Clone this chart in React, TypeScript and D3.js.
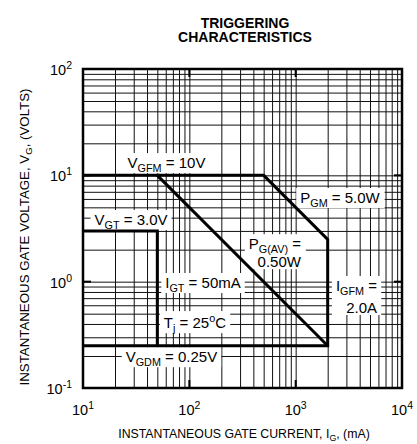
import { useEffect, useRef } from 'react';
import * as d3 from 'd3';

const W = 417;
const H = 444;

// axes: gate current in mA, gate voltage in volts
const currentDomain = [10, 10000];
const voltageDomain = [0.1, 100];
const currentTicks = [10, 100, 1000, 10000];
const voltageTicks = [0.1, 1, 10, 100];

// outer rating boundary: VGFM -> PGM -> IGFM -> VGDM
const boundaryCurrent = [10, 500, 2000, 2000, 10];
const boundaryVoltage = [10, 10, 2.5, 0.25, 0.25];
// average gate power line, PG(AV) = 0.5 W
const avgPowerCurrent = [50, 2000];
const avgPowerVoltage = [10, 0.25];
// trigger corner VGT / IGT
const triggerCurrent = [10, 50, 50];
const triggerVoltage = [3, 3, 0.25];

type Part = [string, '' | 'sub' | 'sup'];
const labelLines: Part[][][] = [
  [[['V', ''], ['GFM', 'sub'], [' = 10V', '']]],
  [[['P', ''], ['GM', 'sub'], [' = 5.0W', '']]],
  [[['V', ''], ['GT', 'sub'], [' = 3.0V', '']]],
  [[['P', ''], ['G(AV)', 'sub'], [' =', '']], [['0.50W', '']]],
  [[['I', ''], ['GT', 'sub'], [' = 50mA', '']]],
  [[['I', ''], ['GFM', 'sub'], [' =', '']], [['2.0A', '']]],
  [[['T', ''], ['j', 'sub'], [' = 25', ''], ['o', 'sup'], ['C', '']]],
  [[['V', ''], ['GDM', 'sub'], [' = 0.25V', '']]],
];

const titleLines = ['TRIGGERING', 'CHARACTERISTICS'];
const xTitle: Part[] = [['INSTANTANEOUS GATE CURRENT, I', ''], ['G', 'sub'], [', (mA)', '']];
const yTitle: Part[] = [['INSTANTANEOUS GATE VOLTAGE, V', ''], ['G', 'sub'], [', (VOLTS)', '']];

const FONT = '"Liberation Sans", Arial, Helvetica, sans-serif';

function parts(sel: any, list: Part[], size: number) {
  let shift = 0;
  list.forEach(([t, kind]) => {
    const target = kind === 'sub' ? size * 0.27 : kind === 'sup' ? -size * 0.4 : 0;
    sel.append('tspan')
      .attr('dy', target - shift)
      .attr('font-size', kind ? size * 0.72 : size)
      .text(t);
    shift = target;
  });
}

export default function App() {
  const svgRef = useRef<SVGSVGElement>(null);

  useEffect(() => {
    const svg = d3.select(svgRef.current);
    svg.selectAll('*').remove();

    const m = { top: 69, right: 15, bottom: 56, left: 83 };
    const iw = W - m.left - m.right;
    const ih = H - m.top - m.bottom;
    const x = d3.scaleLog().domain(currentDomain).range([0, iw]);
    const y = d3.scaleLog().domain(voltageDomain).range([ih, 0]);

    // title
    svg.append('g').selectAll('text').data(titleLines).join('text')
      .attr('x', 245).attr('y', (_, i) => 28 + i * 14)
      .attr('text-anchor', 'middle').attr('font-weight', 'bold')
      .attr('font-size', 14).text(d => d);

    const g = svg.append('g').attr('transform', `translate(${m.left},${m.top})`);

    // log grid
    g.append('g').attr('transform', `translate(0,${ih})`)
      .call(d3.axisBottom(x).tickSize(ih).tickSizeOuter(0).tickFormat(() => '') as any)
      .call(a => a.select('.domain').remove())
      .call(a => a.selectAll('.tick line').attr('y2', -ih).attr('stroke', '#111'));
    g.append('g')
      .call(d3.axisLeft(y).tickSize(-iw).tickSizeOuter(0).tickFormat(() => '') as any)
      .call(a => a.select('.domain').remove())
      .call(a => a.selectAll('.tick line').attr('stroke', '#111'));

    // decade stubs on the frame
    const stub = 8;
    currentTicks.slice(1, -1).forEach(c => {
      g.append('line').attr('x1', x(c)).attr('x2', x(c)).attr('y1', 0).attr('y2', stub)
        .attr('stroke', '#000').attr('stroke-width', 2);
      g.append('line').attr('x1', x(c)).attr('x2', x(c)).attr('y1', ih).attr('y2', ih - stub)
        .attr('stroke', '#000').attr('stroke-width', 2);
    });
    voltageTicks.slice(1, -1).forEach(v => {
      g.append('line').attr('y1', y(v)).attr('y2', y(v)).attr('x1', 0).attr('x2', stub)
        .attr('stroke', '#000').attr('stroke-width', 2);
      g.append('line').attr('y1', y(v)).attr('y2', y(v)).attr('x1', iw).attr('x2', iw - stub)
        .attr('stroke', '#000').attr('stroke-width', 2);
    });

    // label placement in data units (mA, V)
    const place = [
      { i: 61, v: 11.7, anchor: 'middle', gap: 0 },
      { i: 2612, v: 5.49, anchor: 'middle', gap: 0 },
      { i: 28.3, v: 3.41, anchor: 'middle', gap: 0 },
      { i: 1122, v: 2.02, anchor: 'end', gap: 18 },
      { i: 134.5, v: 0.872, anchor: 'middle', gap: 0 },
      { i: 5821, v: 0.817, anchor: 'end', gap: 22 },
      { i: 113, v: 0.366, anchor: 'middle', gap: 0 },
      { i: 67.9, v: 0.175, anchor: 'middle', gap: 0 },
    ];
    const boxLayer = g.append('g');
    const curveLayer = g.append('g');
    const textLayer = g.append('g');

    const line = d3.line<[number, number]>().x(d => x(d[0])).y(d => y(d[1]));
    const curves = [
      d3.zip(boundaryCurrent, boundaryVoltage),
      d3.zip(avgPowerCurrent, avgPowerVoltage),
      d3.zip(triggerCurrent, triggerVoltage),
    ];
    curveLayer.selectAll('path').data(curves).join('path')
      .attr('d', d => line(d as [number, number][]))
      .attr('fill', 'none').attr('stroke', '#000').attr('stroke-width', 3)
      .attr('stroke-linejoin', 'miter');

    labelLines.forEach((lines, k) => {
      const p = place[k];
      const lg = textLayer.append('g');
      lines.forEach((ln, j) => {
        const t = lg.append('text')
          .attr('x', x(p.i)).attr('y', y(p.v) + j * p.gap)
          .attr('text-anchor', p.anchor).attr('font-size', 15);
        parts(t, ln, 15);
      });
      const bb = (lg.node() as SVGGElement).getBBox();
      boxLayer.append('rect')
        .attr('x', bb.x - 4).attr('y', bb.y - 1)
        .attr('width', bb.width + 8).attr('height', bb.height)
        .attr('fill', '#fff');
    });

    // frame
    g.append('rect').attr('width', iw).attr('height', ih)
      .attr('fill', 'none').attr('stroke', '#000').attr('stroke-width', 2.5);

    // tick labels 10^n
    const expOf = (v: number) => String(Math.round(Math.log10(v)));
    currentTicks.forEach(c => {
      const t = g.append('text').attr('x', x(c)).attr('y', ih + 27)
        .attr('text-anchor', 'middle').attr('font-size', 14.5);
      t.append('tspan').text('10');
      t.append('tspan').attr('dy', -6).attr('font-size', 10.5).text(expOf(c));
    });
    voltageTicks.forEach(v => {
      const t = g.append('text').attr('x', -11).attr('y', y(v) + 6)
        .attr('text-anchor', 'end').attr('font-size', 14.5);
      t.append('tspan').text('10');
      t.append('tspan').attr('dy', -6).attr('font-size', 10.5).text(expOf(v));
    });

    // axis titles
    const xt = svg.append('text').attr('x', 244).attr('y', 438)
      .attr('text-anchor', 'middle').attr('font-size', 12.3);
    parts(xt, xTitle, 12.3);
    const yt = svg.append('text').attr('transform', 'translate(28.5,237) rotate(-90)')
      .attr('text-anchor', 'middle').attr('font-size', 13.3);
    parts(yt, yTitle, 13.3);
  }, []);

  return (
    <svg
      ref={svgRef}
      width={W}
      height={H}
      style={{ position: 'absolute', left: 0, top: 0, background: '#fff', fontFamily: FONT }}
    />
  );
}
